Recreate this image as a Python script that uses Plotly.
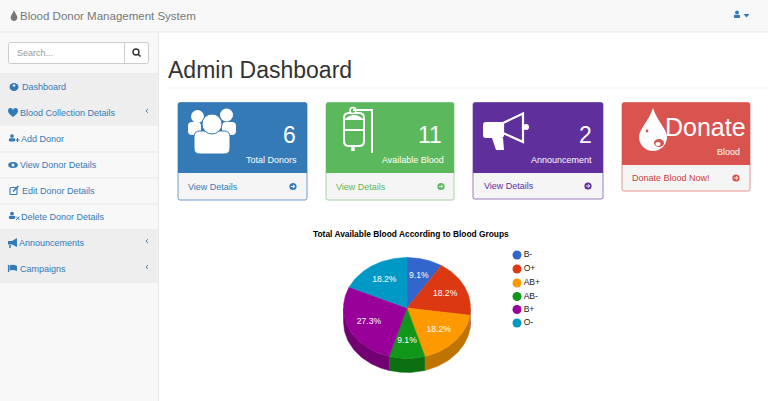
"""
Blood Donor Management System - admin dashboard with the blood group pie
"""

import numpy as np
import plotly.graph_objects as go

FONT = "Liberation Sans"
LINK = "#337ab7"

# ==================== DATA ====================

groups = ['B-', 'O+', 'AB+', 'AB-', 'B+', 'O-']
units = [1, 2, 2, 1, 3, 2]
top_colors = ['#3366cc', '#dc3912', '#ff9900', '#109618', '#990099', '#0099c6']
side_colors = ['#264d99', '#a52b0e', '#bf7300', '#0c7012', '#730073', '#007394']

cards = [
    dict(x0=178, x1=307, y1=200, split=173, color='#337ab7', border='#6f9fc9', num='6', num_x=296, num_y=135,
         num_size=23, label='Total Donors', label_x=297, label_y=159.5,
         link='View Details', link_x=188, arrow_x=293),
    dict(x0=326, x1=454, y1=200, split=173, color='#5cb85c', border='#a5d6a5', num='11', num_x=442, num_y=135,
         num_size=23, label='Available Blood', label_x=444, label_y=159.5,
         link='View Details', link_x=336, arrow_x=441),
    dict(x0=473, x1=603, y1=199, split=173, color='#5f2f9c', border='#9a7cc0', num='2', num_x=592, num_y=135,
         num_size=23, label='Announcement', label_x=592, label_y=159.5,
         link='View Details', link_x=484, arrow_x=588),
    dict(x0=622, x1=750, y1=191, split=165, color='#d9534f', border='#e8928f', num='Donate', num_x=745.5, num_y=127,
         num_size=25, label='Blood', label_x=740, label_y=152,
         link='Donate Blood Now!', link_x=632, arrow_x=736),
]

menu = [
    ('Dashboard', 22, 87),
    ('Blood Collection Details', 20, 113),
    ('Add Donor', 21, 139),
    ('View Donor Details', 20, 165),
    ('Edit Donor Details', 22, 191),
    ('Delete Donor Details', 21, 216.5),
    ('Announcements', 19, 242.5),
    ('Campaigns', 20, 268.5),
]

shapes = []
notes = []


# ==================== HELPERS ====================

def rect(x0, y0, x1, y1, fill, line=None, width=1):
    shapes.append(dict(type='rect', x0=x0, y0=y0, x1=x1, y1=y1, fillcolor=fill, layer='below',
                       line=dict(color=line or fill, width=width if line else 0)))


def round_rect(x0, y0, x1, y1, r, fill, line=None, width=1, corners='all'):
    tl = tr = bl = br = r
    if corners == 'top':
        bl = br = 0
    p = (f"M{x0+tl},{y0} L{x1-tr},{y0} Q{x1},{y0} {x1},{y0+tr} L{x1},{y1-br} Q{x1},{y1} {x1-br},{y1} "
         f"L{x0+bl},{y1} Q{x0},{y1} {x0},{y1-bl} L{x0},{y0+tl} Q{x0},{y0} {x0+tl},{y0} Z")
    path(p, fill, line, width)


def path(p, fill=None, line=None, width=1):
    shapes.append(dict(type='path', path=p, fillcolor=fill or 'rgba(0,0,0,0)', layer='below',
                       line=dict(color=line or 'rgba(0,0,0,0)', width=width if line else 0)))


def circle(cx, cy, rx, fill, line=None, width=1, ry=None):
    ry = ry or rx
    shapes.append(dict(type='circle', x0=cx-rx, x1=cx+rx, y0=cy-ry, y1=cy+ry, fillcolor=fill, layer='below',
                       line=dict(color=line or fill, width=width if line else 0)))


def text(x, y, s, size=9, color='#333333', anchor='left', bold=False):
    notes.append(dict(x=x, y=y, text=f"<b>{s}</b>" if bold else s, showarrow=False, xanchor=anchor,
                      yanchor='middle', borderpad=0, borderwidth=0,
                      font=dict(family=FONT, size=size, color=color)))


def drop(cx, tip, cy, r, fill):
    k = r * 0.5523
    path(f"M{cx},{tip} C{cx+r*0.3},{tip+(cy-tip)*0.45} {cx+r},{cy-r*0.55} {cx+r},{cy} "
         f"C{cx+r},{cy+k} {cx+k},{cy+r} {cx},{cy+r} C{cx-k},{cy+r} {cx-r},{cy+k} {cx-r},{cy} "
         f"C{cx-r},{cy-r*0.55} {cx-r*0.3},{tip+(cy-tip)*0.45} {cx},{tip} Z", fill)


def person(cx, cy, s, color):
    circle(cx, cy-s*0.45, s*0.42, color)
    round_rect(cx-s*0.7, cy+s*0.05, cx+s*0.7, cy+s*0.8, s*0.3, color)


# ==================== PAGE FRAME ====================

rect(0, 0, 768, 32, '#f8f8f8')
rect(0, 32, 158, 401, '#f8f8f8')
shapes.append(dict(type='line', x0=0, x1=768, y0=32, y1=32, line=dict(color='#e7e7e7', width=1), layer='below'))
shapes.append(dict(type='line', x0=158.5, x1=158.5, y0=32, y1=401, line=dict(color='#e7e7e7', width=1), layer='below'))

drop(14, 10, 17.5, 3.4, '#777777')
text(20, 16, 'Blood Donor Management System', size=11.5, color='#777777')
person(737, 14.5, 4.5, LINK)
path("M743.5,14 L749.5,14 L746.5,17.5 Z", LINK)

# search box
round_rect(8.5, 42.5, 148.5, 63.5, 2, '#ffffff', '#cccccc')
shapes.append(dict(type='line', x0=124.5, x1=124.5, y0=43, y1=63, line=dict(color='#cccccc', width=1), layer='below'))
text(16.5, 52.5, 'Search...', color='#999999')
circle(136, 52, 3, 'rgba(0,0,0,0)', '#333333', 1.4)
path("M138.2,54.2 L140.5,56.5", None, '#333333', 1.6)

# sidebar menu
rect(0, 73, 158, 126, '#eeeeee')
rect(0, 229, 158, 283, '#eeeeee')
for y in [152, 178, 204]:
    shapes.append(dict(type='line', x0=0, x1=158, y0=y, y1=y, line=dict(color='#e7e7e7', width=1), layer='below'))
for label, x, y in menu:
    text(x, y, label, color=LINK)
for y in [111, 241, 267]:
    path(f"M148,{y-2} L146,{y} L148,{y+2}", None, '#5a7f9f', 1)

# sidebar icons
circle(14, 87, 4.5, LINK, ry=4)
circle(14, 85.5, 1.2, '#eeeeee')
path("M8,111 Q8,108 10.5,108 Q12.5,108 13,110 Q13.5,108 15.5,108 Q18,108 18,111 Q18,113.5 13,117 Q8,113.5 8,111 Z", LINK)
person(12, 138, 4.4, LINK)
path("M15.5,140 H19.5 M17.5,138 V142", None, LINK, 1.2)
circle(13, 165, 4.8, LINK, ry=3)
circle(13, 165, 1.5, '#f8f8f8')
round_rect(10, 187.5, 17, 194.5, 1, 'rgba(0,0,0,0)', LINK, 1.1)
path("M13,191.5 L18.5,186", None, LINK, 1.6)
person(12, 215.5, 4.4, LINK)
path("M16,216.5 L19.5,220 M19.5,216.5 L16,220", None, LINK, 1)
path("M8,241 H12 L17,238 V247 L12,244.5 H8 Z", LINK)
path("M10,245 V248", None, LINK, 1.5)
path("M8.5,265 V272", None, LINK, 1.2)
path("M9.5,265.5 Q13,264 17,266 V271 Q13,269.5 9.5,270.5 Z", LINK)

# heading
text(168, 70, 'Admin Dashboard', size=23, color='#333333')
shapes.append(dict(type='line', x0=168, x1=768, y0=88, y1=88, line=dict(color='#f4f4f4', width=1), layer='below'))

# ==================== CARDS ====================

for c in cards:
    round_rect(c['x0'], 102.5, c['x1'], c['y1'], 2, '#f5f5f5', c['border'], 1)
    round_rect(c['x0'], 102.5, c['x1'], c['split'], 2, c['color'], corners='top')
    text(c['num_x'], c['num_y'], c['num'], size=c['num_size'], color='#ffffff', anchor='right')
    text(c['label_x'], c['label_y'], c['label'], color='#ffffff', anchor='right')
    foot_y = (c['split'] + c['y1']) / 2
    text(c['link_x'], foot_y, c['link'], color=c['color'] if c['color'] != '#d9534f' else '#c9403c')
    circle(c['arrow_x'], foot_y, 3.6, c['color'])
    path(f"M{c['arrow_x']-2},{foot_y} H{c['arrow_x']+1.6} M{c['arrow_x']},{foot_y-1.7} L{c['arrow_x']+1.9},{foot_y} "
         f"L{c['arrow_x']},{foot_y+1.7}", None, '#f5f5f5', 1)

# people icon
BLUE = '#337ab7'
circle(197.5, 116.5, 6.5, '#ffffff')
circle(226.5, 115, 6.5, '#ffffff')
round_rect(188, 122, 201, 135, 4, '#ffffff')
round_rect(222, 122, 236, 135, 4, '#ffffff')
round_rect(194, 131, 230, 154, 6, '#ffffff', BLUE, 1)
circle(212, 124, 10, '#ffffff', BLUE, 1)

# blood bag icon
round_rect(344, 113, 364, 146, 5, 'rgba(0,0,0,0)', '#ffffff', 2)
path("M344,130 H364", None, '#ffffff', 2)
path("M344,120 Q354,110 364,120 Z", '#ffffff')
circle(353, 110.5, 3, '#5cb85c', '#ffffff', 1.5)
path("M353,110 H372 V153", None, '#ffffff', 2)
path("M353,146 V151", None, '#ffffff', 3.5)

# megaphone icon
round_rect(483, 122, 504, 138, 3, '#ffffff')
path("M492,138 H503 L504,150 H496 Z", '#ffffff')
path("M503,123 L523,113.5 V142 L503,133 Z", None, '#ffffff', 2.2)
circle(526, 127, 3, '#ffffff')

# donate drop icon
drop(653, 108, 137, 14, '#ffffff')
circle(647, 131, 1.4, '#d9534f')
circle(659, 143, 5, '#d9534f', ry=4)
circle(658, 144, 2.6, '#ffffff', ry=2)

# ==================== PIE CHART ====================

cx, cy = 407, 308
rx, ry, depth = 63.5, 50.5, 14

text(411, 234, 'Total Available Blood According to Blood Groups', size=8.4, color='#000000', anchor='center', bold=True)

total = sum(units)
ends = np.cumsum(units) / total * 2 * np.pi
starts = np.concatenate([[0], ends[:-1]])

fig = go.Figure()

# side wall: only the front half of the rim shows
for a0, a1, col in zip(starts, ends, side_colors):
    lo, hi = max(a0, np.pi / 2), min(a1, 3 * np.pi / 2)
    if hi <= lo:
        continue
    t = np.linspace(lo, hi, 40)
    xs = cx + rx * np.sin(t)
    ys = cy - ry * np.cos(t)
    fig.add_trace(go.Scatter(x=np.concatenate([xs, xs[::-1]]), y=np.concatenate([ys, ys[::-1] + depth]),
                             fill='toself', fillcolor=col, mode='lines', line=dict(width=0.5, color=col),
                             hoverinfo='skip', showlegend=False))

# top face
for a0, a1, col in zip(starts, ends, top_colors):
    t = np.linspace(a0, a1, 60)
    xs = np.concatenate([[cx], cx + rx * np.sin(t), [cx]])
    ys = np.concatenate([[cy], cy - ry * np.cos(t), [cy]])
    fig.add_trace(go.Scatter(x=xs, y=ys, fill='toself', fillcolor=col, mode='lines',
                             line=dict(width=0.5, color=col), hoverinfo='skip', showlegend=False))

# percent labels
mids = (starts + ends) / 2
fig.add_trace(go.Scatter(x=cx + 0.66 * rx * np.sin(mids), y=cy - 0.66 * ry * np.cos(mids), mode='text',
                         text=[f"{v / total * 100:.1f}%" for v in units], textposition='middle center',
                         textfont=dict(family=FONT, size=8.6, color='#ffffff'), hoverinfo='skip', showlegend=False))

# legend
legend_y = [255, 269, 283, 296.5, 309.5, 323]
fig.add_trace(go.Scatter(x=[517] * len(groups), y=legend_y, mode='markers+text', text=groups,
                         textposition='middle right', marker=dict(size=9, color=top_colors),
                         textfont=dict(family=FONT, size=8.6, color='#222222'), hoverinfo='skip', showlegend=False))

fig.update_layout(
    width=768,
    height=401,
    autosize=False,
    margin=dict(l=0, r=0, t=0, b=0),
    paper_bgcolor='#ffffff',
    plot_bgcolor='rgba(0,0,0,0)',
    showlegend=False,
    xaxis=dict(range=[0, 768], visible=False, fixedrange=True),
    yaxis=dict(range=[401, 0], visible=False, fixedrange=True),
    shapes=shapes,
    annotations=notes,
)

fig.write_html("out.html", config=dict(displayModeBar=False),
               post_script="document.body.style.margin='0';document.body.style.overflow='hidden';")
